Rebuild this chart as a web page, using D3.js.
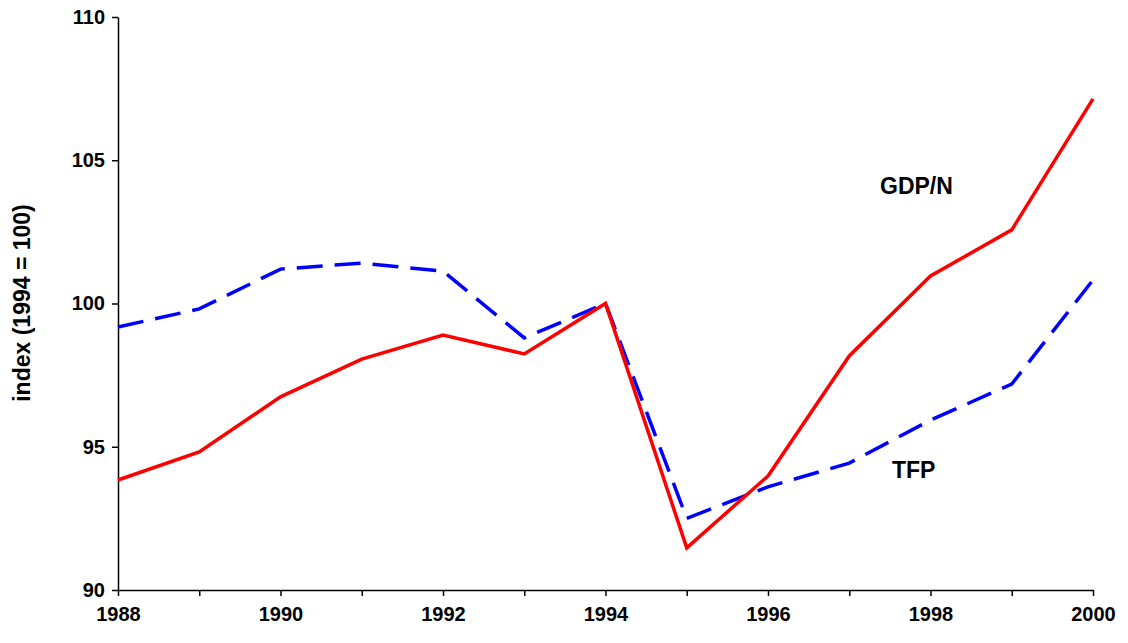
<!DOCTYPE html><html><head><script src="https://cdn.jsdelivr.net/npm/d3@7"></script>
<style>body{margin:0;background:#fff}text{font-family:Arial,"Liberation Sans",sans-serif;font-weight:bold}</style></head><body>
<svg id="c" width="1128" height="643"></svg>
<script>
const years=[1988,1989,1990,1991,1992,1993,1994,1995,1996,1997,1998,1999,2000];
const gdp=[93.84,94.82,96.74,98.06,98.9,98.24,100,91.47,93.98,98.17,100.96,102.57,107.14];
const tfp=[99.18,99.81,101.2,101.41,101.13,98.8,100,92.5,93.6,94.43,95.93,97.19,100.82];
const xTicks=[1988,1990,1992,1994,1996,1998,2000];
const yTicks=[90,95,100,105,110];
const svg=d3.select("#c");
const x=d3.scaleLinear().domain([1988,2000]).range([118,1093]);
const y=d3.scaleLinear().domain([90,110]).range([590,17]);
const ya=svg.append("g").attr("transform","translate(118,0)").call(d3.axisLeft(y).tickValues(yTicks).tickSize(6).tickSizeOuter(0).tickFormat(d3.format("d")));
const xa=svg.append("g").attr("transform","translate(0,590)").call(d3.axisBottom(x).tickValues(years).tickSize(6).tickSizeOuter(0).tickFormat(d=>xTicks.includes(d)?d:""));
[ya,xa].forEach(a=>{a.attr("font-size",null);a.selectAll("path,line").attr("stroke","#000").attr("stroke-width",1.5);a.selectAll("text").style("font-size","20px").attr("fill","#000");});
ya.selectAll("text").attr("dx",-4);
xa.selectAll("text").attr("dy",22);
const line=d3.line().x((d,i)=>x(years[i])).y(d=>y(d));
svg.append("path").datum(tfp).attr("d",line).attr("fill","none").attr("stroke","#0000ff").attr("stroke-width",3.5).attr("stroke-dasharray","26,12");
svg.append("path").datum(gdp).attr("d",line).attr("fill","none").attr("stroke","#ff0000").attr("stroke-width",3.5);
svg.append("text").attr("x",880).attr("y",194).style("font-size","23px").text("GDP/N");
svg.append("text").attr("x",892).attr("y",478).style("font-size","23px").text("TFP");
svg.append("text").attr("transform","translate(30,303) rotate(-90)").attr("text-anchor","middle").style("font-size","23px").text("index (1994 = 100)");
</script></body></html>
